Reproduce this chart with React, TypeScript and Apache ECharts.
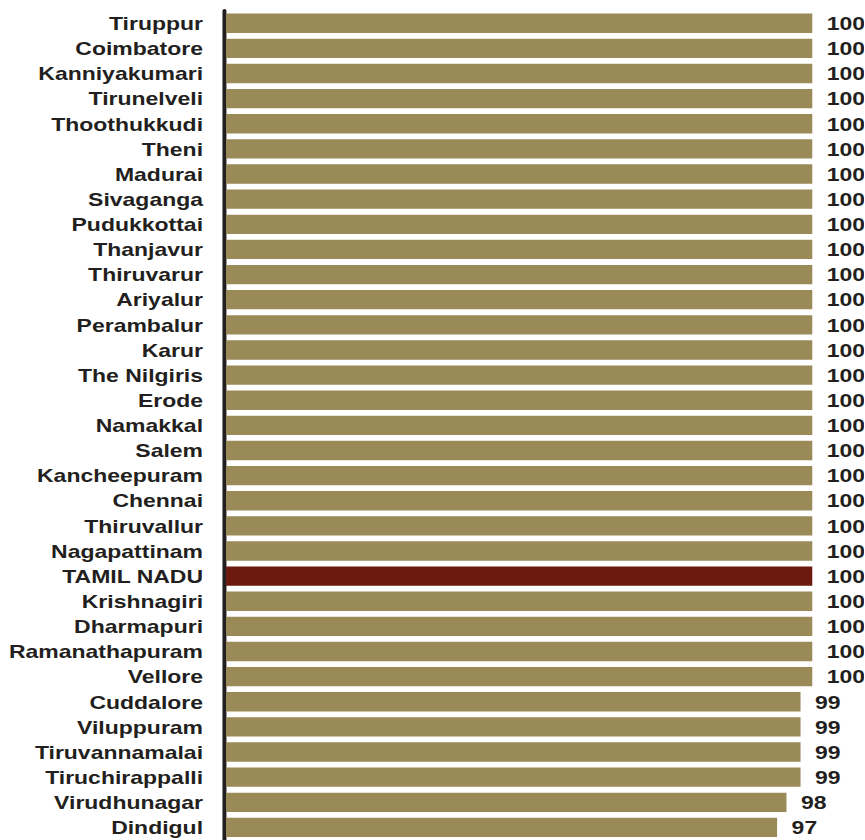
import React, { useEffect, useRef } from "react";
import * as echarts from "echarts";

const categories: string[] = [
  "Tiruppur", "Coimbatore", "Kanniyakumari", "Tirunelveli", "Thoothukkudi", "Theni",
  "Madurai", "Sivaganga", "Pudukkottai", "Thanjavur", "Thiruvarur", "Ariyalur",
  "Perambalur", "Karur", "The Nilgiris", "Erode", "Namakkal", "Salem", "Kancheepuram",
  "Chennai", "Thiruvallur", "Nagapattinam", "TAMIL NADU", "Krishnagiri", "Dharmapuri",
  "Ramanathapuram", "Vellore", "Cuddalore", "Viluppuram", "Tiruvannamalai",
  "Tiruchirappalli", "Virudhunagar", "Dindigul",
];

const values: number[] = [
  100, 100, 100, 100, 100, 100, 100, 100, 100, 100, 100, 100, 100, 100, 100, 100,
  100, 100, 100, 100, 100, 100, 100, 100, 100, 100, 100, 99, 99, 99, 99, 97.8, 97,
];

const highlight = "TAMIL NADU";
const SCALE_X = 1.21;

export default function App() {
  const ref = useRef<HTMLDivElement>(null);
  useEffect(() => {
    if (!ref.current) return;
    const chart = echarts.init(ref.current, null, { renderer: "svg" });
    const font = '"Liberation Sans", Arial, sans-serif';
    chart.setOption({
      animation: false,
      backgroundColor: "#ffffff",
      grid: { left: 186.8, width: 484.5, top: 10.7, height: 833, containLabel: false },
      xAxis: {
        type: "value",
        min: 50,
        max: 100,
        show: false,
      },
      yAxis: {
        type: "category",
        data: categories,
        inverse: true,
        offset: 2,
        axisLine: { show: true, lineStyle: { color: "#231f20", width: 3.3 } },
        axisTick: { show: false },
        splitLine: { show: false },
        axisLabel: {
          margin: 17,
          color: "#231f20",
          fontFamily: font,
          fontWeight: "bold",
          fontSize: 19,
        },
      },
      series: [
        {
          type: "bar",
          data: values.map((v, i) => ({
            value: v,
            itemStyle: { color: categories[i] === highlight ? "#6e1910" : "#9a8a58" },
          })),
          barCategoryGap: "23%",
          label: {
            show: true,
            position: "right",
            distance: 12,
            color: "#231f20",
            fontFamily: font,
            fontWeight: "bold",
            fontSize: 19,
            formatter: (p: any) => String(Math.round(p.value)),
          },
        },
      ],
    });
    return () => chart.dispose();
  }, []);
  return (
    <div
      ref={ref}
      style={{
        position: "absolute",
        left: 0,
        top: 0,
        width: 714,
        height: 840,
        transform: `scaleX(${SCALE_X})`,
        transformOrigin: "0 0",
      }}
    />
  );
}
